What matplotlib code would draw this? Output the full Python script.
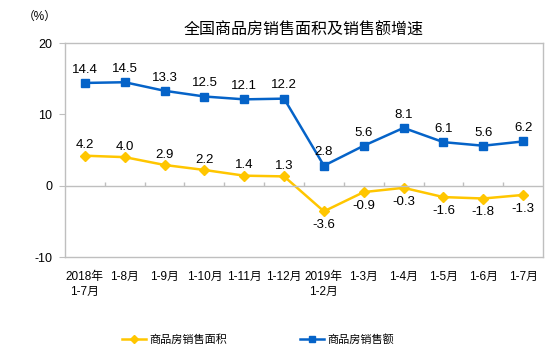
import numpy as np
import matplotlib.pyplot as plt

plt.rcParams['font.family'] = ['Liberation Sans', 'Noto Sans CJK SC']
plt.rcParams['axes.unicode_minus'] = False

# categories and series
labels = ['2018年\n1-7月', '1-8月', '1-9月', '1-10月', '1-11月', '1-12月',
          '2019年\n1-2月', '1-3月', '1-4月', '1-5月', '1-6月', '1-7月']
area = [4.2, 4.0, 2.9, 2.2, 1.4, 1.3, -3.6, -0.9, -0.3, -1.6, -1.8, -1.3]
sales = [14.4, 14.5, 13.3, 12.5, 12.1, 12.2, 2.8, 5.6, 8.1, 6.1, 5.6, 6.2]

yellow = '#FFC600'
blue = '#0563C8'
gray = '#BFBFBF'

fig = plt.figure(figsize=(5.58, 3.62), dpi=100)
ax = fig.add_axes([65/558, 105/362, 478/558, 214/362])

x = np.arange(len(labels))
ax.plot(x, area, color=yellow, lw=1.8, marker='D', ms=5.5, label='商品房销售面积')
ax.plot(x, sales, color=blue, lw=1.8, marker='s', ms=5.5, label='商品房销售额')

for i, v in enumerate(sales):
    ax.annotate(f'{v:.1f}', (i, v), xytext=(0, 9.5), textcoords='offset points',
                ha='center', va='center', fontsize=9.5)
for i, v in enumerate(area):
    dy = 7.5 if i < 6 else -10
    ax.annotate(f'{v:.1f}', (i, v), xytext=(0, dy), textcoords='offset points',
                ha='center', va='center', fontsize=9.5)

ax.set_xlim(-0.5, len(labels) - 0.5)
ax.set_ylim(-10, 20)
ax.set_yticks([-10, 0, 10, 20])
ax.tick_params(axis='y', length=4, color=gray, labelsize=9, pad=5)
ax.set_xticks(x)
ax.set_xticklabels(labels, fontsize=8.5, va='top', linespacing=1.3)
ax.tick_params(axis='x', length=0, pad=10)
for s in ax.spines.values():
    s.set_color(gray)
    s.set_linewidth(1)

ax.axhline(0, color=gray, lw=1)
ax.vlines(x[:-1] + 0.5, 0, 0.45, color=gray, lw=1)

fig.text(304/558, 1 - 30/362, '全国商品房销售面积及销售额增速', ha='center', va='center',
         fontsize=11.5)
fig.text(40/558, 1 - 17/362, '（%）', ha='center', va='center', fontsize=8.5)

fig.legend(loc='center', bbox_to_anchor=(258/558, 1 - 340/362), ncol=2, frameon=False,
           fontsize=8, columnspacing=6.5, handlelength=2.2, handletextpad=0.3,
           markerscale=0.8)

fig.savefig('out.png', dpi=100)
